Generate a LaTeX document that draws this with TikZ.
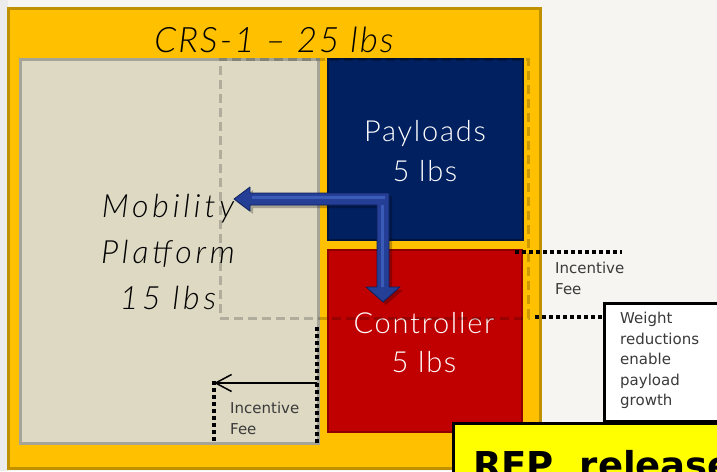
\documentclass[tikz,border=0pt]{standalone}
\usepackage{fontspec}
\setmainfont{Lato Light}[LetterSpace=6]
\newfontfamily\smallf{DejaVu Sans}
\usetikzlibrary{arrows.meta}
\definecolor{bgc}{HTML}{F6F5F1}
\definecolor{gold}{HTML}{FFC000}
\definecolor{golddark}{HTML}{BF9000}
\definecolor{tan}{HTML}{DDD9C3}
\definecolor{tanborder}{HTML}{A6A497}
\definecolor{navy}{HTML}{002060}
\definecolor{navydark}{HTML}{001440}
\definecolor{crimson}{HTML}{C00000}
\definecolor{crimsondark}{HTML}{8E0000}
\definecolor{arrowblue}{HTML}{253F96}
\definecolor{arrowlight}{HTML}{3A5BB8}
\definecolor{arrowdark}{HTML}{0E1F5C}
\definecolor{rfp}{HTML}{FFFF00}
\definecolor{smalltext}{HTML}{3A3A3A}
\tikzset{
  panel/.style={rectangle, inner sep=0pt, line width=3pt},
  bigtext/.style={align=center, inner sep=0pt},
  notetext/.style={align=left, inner sep=0pt, anchor=north west, text=smalltext,
    font=\smallf\fontsize{15}{20.5}\selectfont},
  dotline/.style={line width=3.5pt, dash pattern=on 3.5pt off 3.5pt, black},
}
\begin{document}
\begin{tikzpicture}[x=1pt,y=-1pt]
\useasboundingbox (0,0) rectangle (717,471);
\clip (0,0) rectangle (717,471);
\fill[bgc] (0,0) rectangle (717,471);
\fill[gray!15] (0,0) rectangle (8,471);

% outer box
\node[panel, fill=gold, draw=golddark, minimum width=532pt, minimum height=460pt] (outer) at (274,238) {};
\node[bigtext, font=\itshape\fontsize{35}{40}\selectfont, anchor=base] (title) at (274,52) {CRS-1 -- 25 lbs};

% mobility platform
\node[panel, fill=tan, draw=tanborder, minimum width=298pt, minimum height=384pt] (mobility) at (169,251) {};
\node[bigtext, font=\itshape\fontsize{32}{46}\selectfont\addfontfeatures{LetterSpace=12}] (mobtext) at (168,252) {Mobility\\Platform\\15 lbs};

% payloads
\node[panel, line width=1.5pt, fill=navy, draw=navydark, minimum width=195pt, minimum height=181pt] (payloads) at (425.5,149.5) {};
\node[bigtext, text=white, font=\fontsize{29}{40}\selectfont] (paytext) at (425,151) {Payloads\\5 lbs};

% controller
\node[panel, line width=1.5pt, fill=crimson, draw=crimsondark, minimum width=194pt, minimum height=182pt] (controller) at (425,341) {};
\node[bigtext, text=white, font=\fontsize{29}{39}\selectfont] (ctltext) at (424,343) {Controller\\5 lbs};

% dashed translucent rectangle
\node[panel, draw=black, draw opacity=0.2, dash pattern=on 9pt off 5pt, minimum width=308pt, minimum height=259pt] (growth) at (374,188.5) {};

% bent 3D arrow
\fill[black, opacity=0.25] (392,196) -- (253,196) -- (253,190) -- (237,202) -- (253,214) -- (253,208) -- (380,208) -- (380,290) -- (369,290) -- (386,305) -- (403,290) -- (392,290) -- cycle;
\filldraw[fill=arrowblue, draw=arrowdark, line width=0.8pt, line join=round]
  (389,193) -- (250,193) -- (250,187) -- (234,199) -- (250,211) -- (250,205)
  -- (377,205) -- (377,287) -- (366,287) -- (383,302) -- (400,287) -- (389,287) -- cycle;
\draw[arrowlight, line width=3pt] (252,197) -- (385,197);
\draw[arrowlight, line width=3pt] (382,205) -- (382,287);

% incentive fee right
\coordinate (d1a) at (515,252);
\coordinate (d1b) at (622,252);
\draw[dotline] (d1a) -- (d1b);
\node[notetext] (fee1) at (555,262) {Incentive\\Fee};

% weight box
\node[panel, fill=white, draw=black, minimum width=118pt, minimum height=118pt] (weight) at (663,362) {};
\node[notetext] (weighttext) at (620,312) {Weight\\reductions\\enable\\payload\\growth};
\coordinate (d2a) at (535,317);
\draw[dotline] (d2a) -- (weight.west |- d2a);

% incentive fee left
\coordinate (d3a) at (317,327);
\coordinate (d3b) at (317,443);
\coordinate (d4a) at (214,381);
\coordinate (d4b) at (214,443);
\draw[dotline] (d3a) -- (d3b);
\draw[dotline] (d4a) -- (d4b);
\coordinate (fa) at (317,383);
\coordinate (fb) at (214,383);
\draw[line width=1.5pt, -{Straight Barb[length=16pt,width=17pt]}] (fa) -- (fb);
\node[notetext] (fee2) at (230,402) {Incentive\\Fee};

% RFP box
\node[panel, fill=rfp, draw=black, minimum width=287pt, minimum height=77pt] (rfpbox) at (596.5,461.5) {};
\node[inner sep=0pt, anchor=base west, font=\smallf\bfseries\fontsize{37}{40}\selectfont] (rfptext) at (473,478) {RFP\ \ release};
\end{tikzpicture}
\end{document}
